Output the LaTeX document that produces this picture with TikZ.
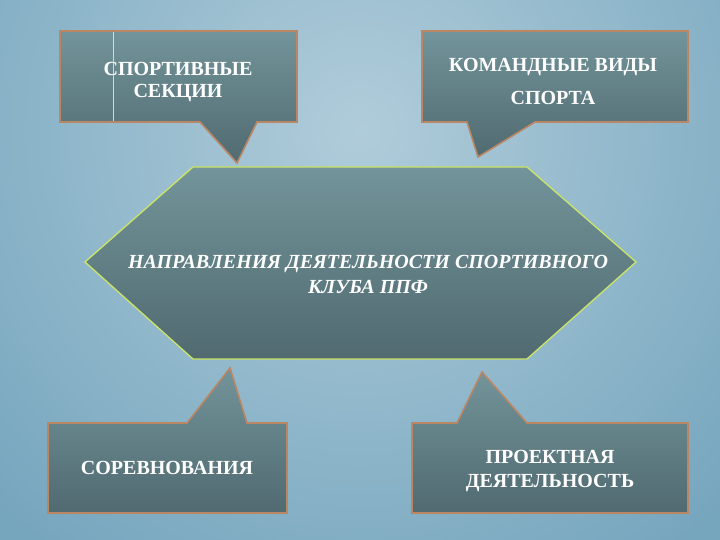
\documentclass[tikz,border=0pt]{standalone}
\usepackage{fontspec}
\setmainfont{Liberation Serif}
\usepackage{tikz}
\usetikzlibrary{positioning}
\definecolor{backblue}{RGB}{118,166,190}
\definecolor{backlight}{RGB}{176,204,218}
\definecolor{boxtop}{RGB}{114,148,154}
\definecolor{boxbottom}{RGB}{80,106,112}
\definecolor{boxedge}{RGB}{186,134,100}
\definecolor{hexedge}{RGB}{204,228,104}

\begin{document}
\begin{tikzpicture}[x=1pt, y=-1pt,
  callout/.style={top color=boxtop, bottom color=boxbottom, draw=boxedge, line width=1.6pt, line join=miter},
  hexbox/.style={top color=boxtop, bottom color=boxbottom, draw=hexedge, line width=1.3pt},
  boxtext/.style={text=white, align=center, font=\bfseries\fontsize{20}{22}\selectfont},
  hextext/.style={text=white, align=center, font=\bfseries\itshape\fontsize{20}{25}\selectfont}]
\useasboundingbox (0,0) rectangle (720,540);
% background
\fill[backblue] (0,0) rectangle (720,540);
\begin{scope}
\clip (0,0) rectangle (720,540);
\shade[inner color=backlight, outer color=backblue] (360,130) circle (520);
\end{scope}
% callouts
\draw[callout] (60,31) -- (297,31) -- (297,122) -- (257,122) -- (237,163) -- (200,122) -- (60,122) -- cycle;
\draw[white!65!boxtop, line width=0.6pt] (113,32) -- (113,121);
\draw[callout] (422,31) -- (688,31) -- (688,122) -- (535,122) -- (478,157) -- (467,122) -- (422,122) -- cycle;
\draw[callout] (48,423) -- (187,423) -- (230,368) -- (247,423) -- (287,423) -- (287,513) -- (48,513) -- cycle;
\draw[callout] (412,423) -- (457,423) -- (482,372) -- (527,423) -- (688,423) -- (688,513) -- (412,513) -- cycle;
% centre
\draw[hexbox] (193,167) -- (527,167) -- (636,262) -- (527,359) -- (193,359) -- (85,262) -- cycle;
\node[hextext] (napr) at (368,274) {НАПРАВЛЕНИЯ ДЕЯТЕЛЬНОСТИ СПОРТИВНОГО\\КЛУБА ППФ};
\node[boxtext] (sekcii) at (178,82) {СПОРТИВНЫЕ\\СЕКЦИИ};
\node[boxtext] (komand) at (553,81) {КОМАНДНЫЕ ВИДЫ\\[11pt]СПОРТА};
\node[boxtext] (sorevn) at (167,468) {СОРЕВНОВАНИЯ};
\node[boxtext] (proekt) at (550,471) {ПРОЕКТНАЯ\\[2pt]ДЕЯТЕЛЬНОСТЬ};
\end{tikzpicture}
\end{document}
